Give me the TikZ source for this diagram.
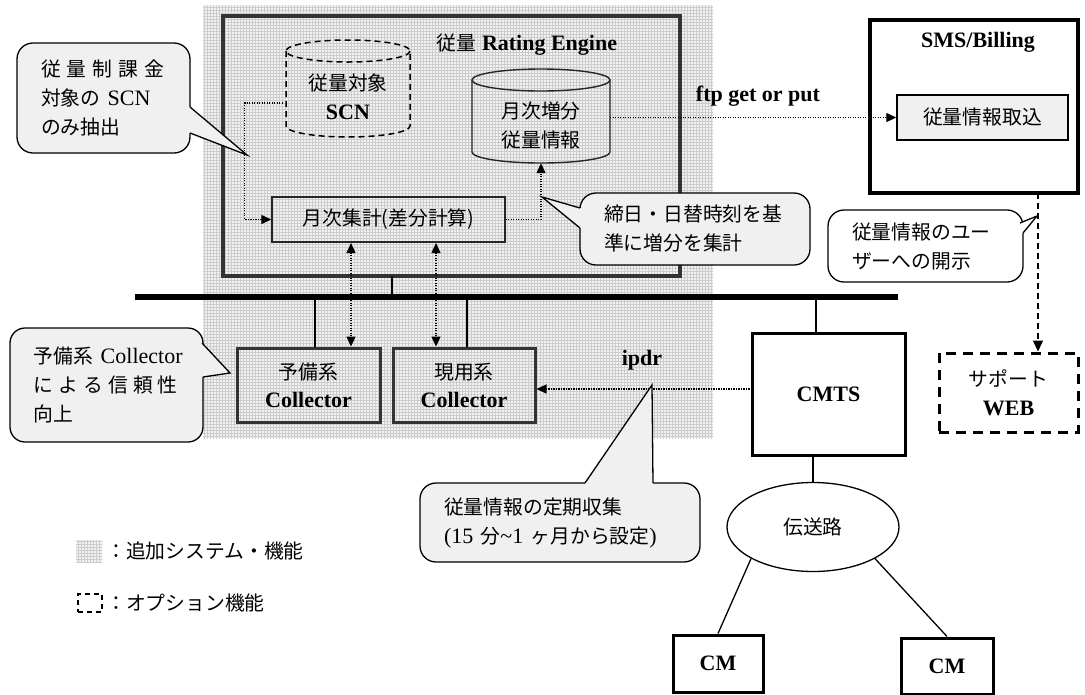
\documentclass[tikz,border=0pt]{standalone}
\usepackage{fontspec}
\setmainfont{Liberation Serif}
\newfontfamily\jpfont[Scale=0.9]{Noto Sans CJK JP}
\newcommand\jp[1]{{\jpfont\mdseries #1}}
\usetikzlibrary{arrows.meta,patterns,calc,shapes.geometric}
\newcommand\cylshape[6]{%
  \draw[#1] (#2-#3,#4) -- (#2-#3,#5) arc[start angle=180,end angle=0,x radius=#3,y radius=#6] -- (#2+#3,#4);
  \draw[#1] (#2,#4) ellipse[x radius=#3,y radius=#6];}
\begin{document}
\begin{tikzpicture}[x=1pt,y=-1pt,
 every node/.style={font=\fontsize{22}{29}\selectfont, inner sep=0pt},
 txt/.style={font=\fontsize{22}{29}\selectfont\bfseries, align=center},
 hbox/.style={draw=black!80, line width=3pt, align=center, font=\fontsize{22}{28}\selectfont\bfseries},
 bbox/.style={draw, line width=3pt, align=center, font=\fontsize{22}{28}\selectfont\bfseries},
 tbox/.style={draw=black!85, line width=1.4pt, align=center},
 conn/.style={line width=1.3pt},
 hatch/.style={pattern=grid, pattern color=gray!40},
 dotarrow/.style={line width=1.3pt, dash pattern=on 1.2pt off 1.3pt, -{Triangle[length=10pt,width=9pt]}},
 ddarrow/.style={line width=1.3pt, dash pattern=on 1.2pt off 1.3pt, {Triangle[length=10pt,width=9pt]}-{Triangle[length=10pt,width=9pt]}},
 dasharrow/.style={line width=1.4pt, dash pattern=on 6pt off 4pt, -{Triangle[length=11pt,width=10pt]}},
 callout/.style={draw, line width=1.3pt, rounded corners=16pt, fill=gray!12, align=left, inner ysep=0pt, inner xsep=24pt},
 ptrfill/.style={fill=gray!12},
 ptrline/.style={line width=1.3pt, line join=miter},
 ]
\useasboundingbox (0,0) rectangle (1085,694);

% additional-system hatched area
\fill[gray!10] (203,5) rectangle (713,438);
\fill[hatch] (203,5) rectangle (713,438);

% Rating engine
\node[hbox, line width=3.5pt, minimum width=457, minimum height=260] (engine) at (451.5,146) {};
\node[txt] (enginet) at (527,45) {\jp{従量} Rating Engine};

% cylinders
\cylshape{line width=1.5pt, dash pattern=on 6pt off 4pt}{348}{62}{51}{126}{11}
\node[txt] (scn) at (348,97) [minimum width=124, minimum height=86] {\jp{従量対象}\\SCN};
\cylshape{line width=1.4pt, draw=black!85}{541}{69}{80}{152}{11}
\node[align=center] (inc) at (541,125) [minimum width=138, minimum height=76] {\jp{月次増分}\\\jp{従量情報}};

\node[tbox, minimum width=233, minimum height=45] (agg) at (388.5,219.5) {\jp{月次集計(差分計算)}};

% SMS/Billing
\node[bbox, line width=3.5pt, minimum width=208, minimum height=173] (sms) at (974,106.5) {};
\node[txt] (smst) at (978,42) {SMS/Billing};
\node[draw, line width=1.4pt, fill=gray!12, minimum width=171, minimum height=45] (take) at (982.5,117.5) {\jp{従量情報取込}};

% support web
\node[draw, line width=3pt, dash pattern=on 10pt off 7pt, minimum width=139, minimum height=79, align=center, font=\fontsize{22}{29}\selectfont\bfseries] (web) at (1008.5,392.5) {\jp{サポート}\\WEB};

% bus
\coordinate (busL) at (135,297);
\coordinate (busR) at (898,297);
\draw[line width=5.5pt] (busL) -- (busR);

% collectors
\node[hbox, minimum width=143, minimum height=74] (spare) at (308.5,385) {\jp{予備系}\\Collector};
\node[hbox, minimum width=142, minimum height=74] (active) at (464,385) {\jp{現用系}\\Collector};

% CMTS & network
\node[bbox, minimum width=153, minimum height=122] (cmts) at (828.5,394) {CMTS};
\node[draw, ellipse, line width=1.3pt, minimum width=172, minimum height=89] (tr) at (813,527) {\jp{伝送路}};
\node[bbox, minimum width=90, minimum height=57] (cm1) at (718,663.5) {CM};
\node[bbox, minimum width=92, minimum height=56] (cm2) at (947,666) {CM};

% solid connectors
\coordinate (e1) at (392,276);
\draw[conn] (e1) -- (e1 |- busL);
\coordinate (s1) at (315,297);
\draw[conn] (s1) -- (s1 |- spare.north);
\coordinate (s2) at (467,297);
\draw[conn] (s2) -- (s2 |- active.north);
\coordinate (s3) at (816,297);
\draw[conn] (s3) -- (s3 |- cmts.north);
\draw[conn] (tr.north) -- (tr.north |- cmts.south);
\draw[conn] (tr.207) -- (cm1.north);
\draw[conn] (tr.333) -- (cm2.north);

% dotted data flows
\draw[dotarrow] ($(scn.west)+(-3,6)$) -- ++(-38,0) |- (agg.west);
\draw[dotarrow] (agg.east) -| (inc.south);
\draw[dotarrow] (take.west -| inc.east) -- (take.west);
\node[txt] (ftp) at (758,96) {ftp get or put};
\coordinate (d1) at (351,243);
\draw[ddarrow] (d1) -- (d1 |- spare.north);
\coordinate (d2) at (436,243);
\draw[ddarrow] (d2) -- (d2 |- active.north);
\coordinate (ip) at (752,389);
\draw[dotarrow] (ip) -- (ip -| active.east);
\node[txt] (ipdr) at (642,360) {ipdr};
\coordinate (w1) at (1038,193);
\draw[dasharrow] (w1) -- (w1 |- web.north);

% callouts
\node[callout, minimum width=173, minimum height=110, text width=125] (c1) at (103.5,98)
  {\mbox{\jp{従\hspace{6pt}量\hspace{6pt}制\hspace{6pt}課\hspace{6pt}金}}\\\mbox{\jp{対象の} SCN}\\\mbox{\jp{のみ抽出}}};
\fill[ptrfill] (185,107) -- (190,107) -- (247,155) -- (190,133) -- (185,133) -- cycle;
\draw[ptrline] (190,107) -- (247,155) -- (190,133);

\node[callout, rounded corners=15pt, minimum width=193, minimum height=114, text width=145] (c2) at (106.5,385)
  {\mbox{\jp{予備系} Collector}\\\mbox{\jp{に\hspace{5pt}よ\hspace{5pt}る\hspace{5pt}信\hspace{5pt}頼\hspace{5pt}性}}\\\mbox{\jp{向上}}};
\fill[ptrfill] (198,344) -- (203,344) -- (230,373) -- (203,377) -- (198,377) -- cycle;
\draw[ptrline] (202,343) -- (230,373) -- (203,377);

\node[callout, minimum width=230, minimum height=72, text width=182] (c3) at (695,229)
  {\mbox{\jp{締日・日替時刻を基}}\\\mbox{\jp{準に増分を集計}}};
\fill[ptrfill] (585,208) -- (580,208) -- (542,197) -- (580,228) -- (585,228) -- cycle;
\draw[ptrline] (580,208) -- (542,197) -- (580,228);

\node[callout, fill=white, minimum width=195, minimum height=72, text width=147] (c4) at (925.5,246)
  {\mbox{\jp{従量情報のユー}}\\\mbox{\jp{ザーへの開示}}};
\fill[white] (1016,223) -- (1021,223) -- (1037,216) -- (1023,233) -- (1016,233) -- cycle;
\draw[ptrline] (1020,223) -- (1037,216) -- (1023,233);

\node[callout, minimum width=280, minimum height=79, text width=232] (c5) at (560,522.5)
  {\mbox{\jp{従量情報の定期収集}}\\\mbox{(15 \jp{分}\textasciitilde 1 \jp{ヶ月から設定})}};
\fill[ptrfill] (585,488) -- (585,483) -- (652,385) -- (653,483) -- (653,488) -- cycle;
\draw[ptrline] (585,483) -- (652,385) -- (653,483);

% legend
\node[hatch, preaction={fill=gray!10}, minimum width=26, minimum height=22] (lg1) at (89,551) {};
\node[anchor=west] (lg1t) at (106,551) {\jp{：追加システム・機能}};
\node[draw, line width=1.3pt, dash pattern=on 5pt off 4pt, minimum width=24, minimum height=18] (lg2) at (90,603) {};
\node[anchor=west] (lg2t) at (106,603) {\jp{：オプション機能}};
\end{tikzpicture}
\end{document}
